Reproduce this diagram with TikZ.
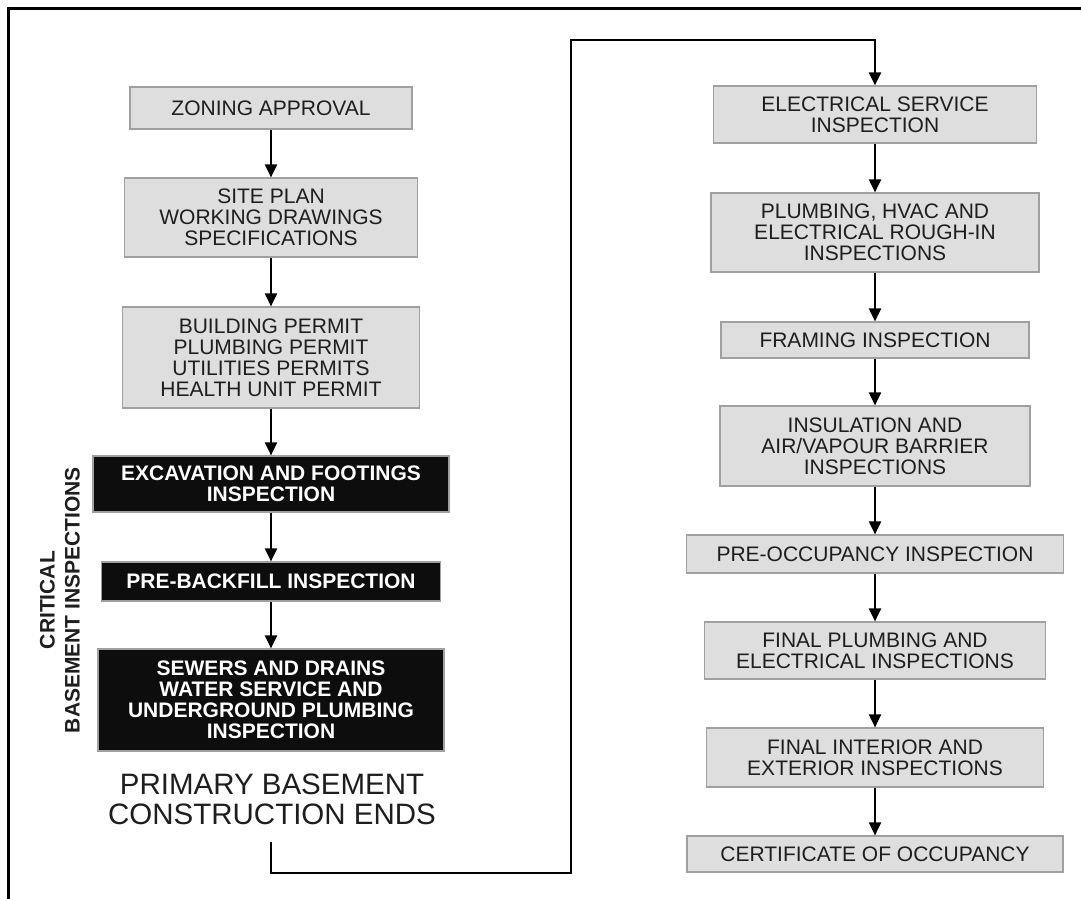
\documentclass[tikz,border=0pt]{standalone}
\usepackage{fontspec}
\setmainfont{Liberation Sans}
\usetikzlibrary{arrows.meta}

\definecolor{boxgray}{RGB}{222,222,222}
\definecolor{edgegray}{RGB}{160,160,160}
\definecolor{inkgray}{RGB}{30,30,30}

\tikzset{
  stage/.style={draw=edgegray, line width=1.2pt, fill=boxgray, text=inkgray,
    align=center, inner sep=0pt, font=\fontsize{21}{21}\selectfont},
  critstage/.style={stage, fill=black!95, text=white,
    font=\fontsize{21}{21}\selectfont\bfseries},
  flow/.style={line width=2pt, -{Triangle[width=12pt,length=13pt]}},
}

\begin{document}
\begin{tikzpicture}[x=1pt, y=-1pt]
    \useasboundingbox (0,0) rectangle (1081,899);
    \draw[line width=3pt] (8,899) -- (8,9) -- (1081,9); % frame

    % before digging
    \node[stage, minimum width=282pt, minimum height=42pt] (zoning) at (271,108) {ZONING APPROVAL};
    \node[stage, minimum width=293pt, minimum height=79pt] (siteplan) at (271,217.5) {SITE PLAN\\WORKING DRAWINGS\\SPECIFICATIONS};
    \node[stage, minimum width=297pt, minimum height=101pt] (permits) at (271,357.5) {BUILDING PERMIT\\PLUMBING PERMIT\\UTILITIES PERMITS\\HEALTH UNIT PERMIT};

    % basement
    \node[critstage, minimum width=356pt, minimum height=56pt] (excav) at (271,484) {EXCAVATION AND FOOTINGS\\INSPECTION};
    \node[critstage, minimum width=339pt, minimum height=39pt] (backfill) at (271,581.5) {PRE-BACKFILL INSPECTION};
    \node[critstage, minimum width=346pt, minimum height=102pt] (sewers) at (271,700) {SEWERS AND DRAINS\\WATER SERVICE AND\\UNDERGROUND PLUMBING\\INSPECTION};
    \node[rotate=90, align=center, text=inkgray, font=\fontsize{21}{25}\selectfont\bfseries] (critical) at (60,600) {CRITICAL\\BASEMENT INSPECTIONS};
    \node[align=center, text=inkgray, font=\fontsize{29.5}{30}\selectfont] (ends) at (272,799) {PRIMARY BASEMENT\\CONSTRUCTION ENDS};
    \coordinate (endtail) at (271,842);

    % above grade
    \node[stage, minimum width=323pt, minimum height=57pt] (elecsvc) at (875,114.5) {ELECTRICAL SERVICE\\INSPECTION};
    \node[stage, minimum width=328pt, minimum height=79pt] (roughin) at (875,232.5) {PLUMBING, HVAC AND\\ELECTRICAL ROUGH-IN\\INSPECTIONS};
    \node[stage, minimum width=308pt, minimum height=36pt] (framing) at (875,340) {FRAMING INSPECTION};
    \node[stage, minimum width=310pt, minimum height=80pt] (insul) at (875,446) {INSULATION AND\\AIR/VAPOUR BARRIER\\INSPECTIONS};
    \node[stage, minimum width=377pt, minimum height=38pt] (preocc) at (875,554) {PRE-OCCUPANCY INSPECTION};
    \node[stage, minimum width=341pt, minimum height=57pt] (finalplumb) at (875,650.5) {FINAL PLUMBING AND\\ELECTRICAL INSPECTIONS};
    \node[stage, minimum width=337pt, minimum height=59pt] (finalint) at (875,757.5) {FINAL INTERIOR AND\\EXTERIOR INSPECTIONS};
    \node[stage, minimum width=376pt, minimum height=36pt] (cert) at (875,854) {CERTIFICATE OF OCCUPANCY};

    \foreach \a/\b in {zoning/siteplan, siteplan/permits, permits/excav, excav/backfill, backfill/sewers,
        elecsvc/roughin, roughin/framing, framing/insul, insul/preocc, preocc/finalplumb,
        finalplumb/finalint, finalint/cert}
      \draw[flow] (\a.south) -- (\b.north);

    % over to the right column
    \draw[flow, line width=2.6pt] (endtail) |- (571,873) -- (571,40) -| (elecsvc.north);
  \end{tikzpicture}
\end{document}
